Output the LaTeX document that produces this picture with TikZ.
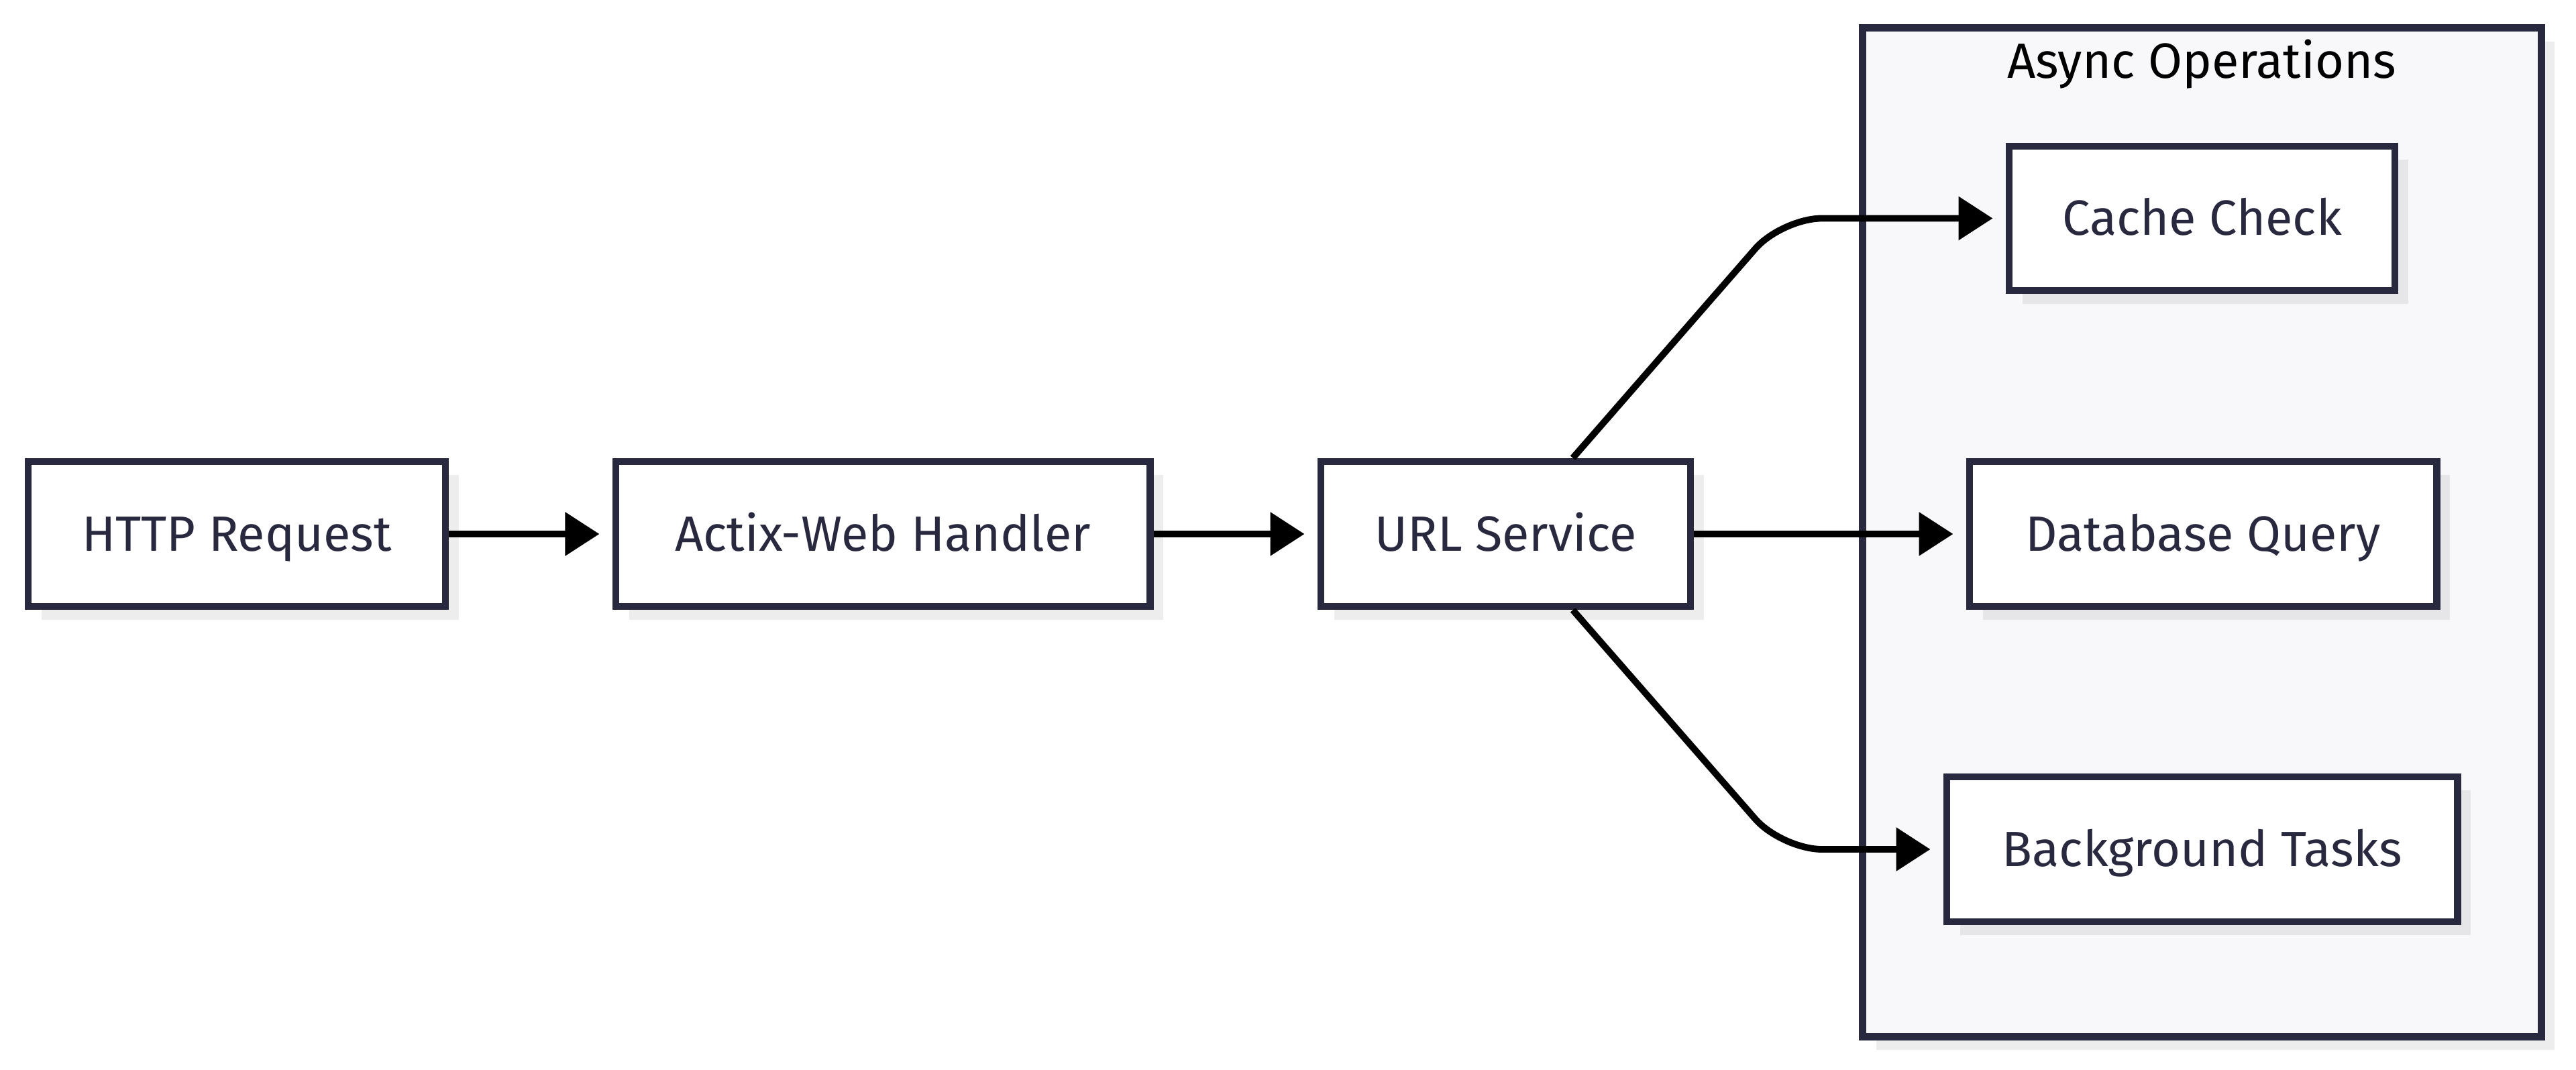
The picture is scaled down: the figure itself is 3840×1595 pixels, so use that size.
\documentclass[tikz,border=0pt]{standalone}
\usepackage{fontspec}
\setmainfont{Fira Sans}
\usetikzlibrary{arrows.meta,shadows}
\definecolor{bd}{HTML}{28283F}
\definecolor{tx}{HTML}{28283F}
\definecolor{cl}{HTML}{F8F8FA}
\begin{document}
\begin{tikzpicture}[x=0.01cm,y=-0.01cm,
  shadowed/.style={drop shadow={shadow xshift=0.2cm, shadow yshift=-0.2cm, opacity=0.07, fill=black}},
  box/.style={draw=bd, line width=3pt, fill=white, text=tx, font=\fontsize{21}{25}\selectfont, minimum height=2.16cm, inner sep=0pt, text height=17pt, text depth=2.5pt, shadowed},
  clusterbox/.style={draw=bd, line width=3pt, fill=cl, inner sep=0pt, shadowed},
  edge/.style={draw=black, line width=2.8pt, -{Triangle[length=0.51cm,width=0.63cm]}, shorten >=0.19cm}]
\useasboundingbox (0,0) rectangle (3840,1595);
\node[clusterbox, minimum width=10.11cm, minimum height=15.03cm] (cluster) at (3282.5,793.5) {};
\node[font=\fontsize{21}{25}\selectfont, text=black, text height=17pt, text depth=2.5pt] (title) at (3282,91) {Async Operations};
\node[box, minimum width=6.22cm] (http) at (353,796) {HTTP Request};
\node[box, minimum width=7.96cm] (actix) at (1316,796) {Actix-Web Handler};
\node[box, minimum width=5.51cm] (url) at (2244.5,796) {URL Service};
\node[box, minimum width=5.75cm, minimum height=2.15cm] (cache) at (3282.5,325.5) {Cache Check};
\node[box, minimum width=6.96cm] (db) at (3284,796) {Database Query};
\node[box, minimum width=7.61cm] (bg) at (3282.5,1266) {Background Tasks};
\draw[edge] (http.east) -- (actix.west);
\draw[edge] (actix.east) -- (url.west);
\draw[edge] (url.east) -- (db.west);
\draw[edge, rounded corners=0.6cm] ([xshift=1cm]url.north) -- (2656,325.5) -- (cache.west);
\draw[edge, rounded corners=0.6cm] ([xshift=1cm]url.south) -- (2656,1266) -- (bg.west);
\end{tikzpicture}
\end{document}
